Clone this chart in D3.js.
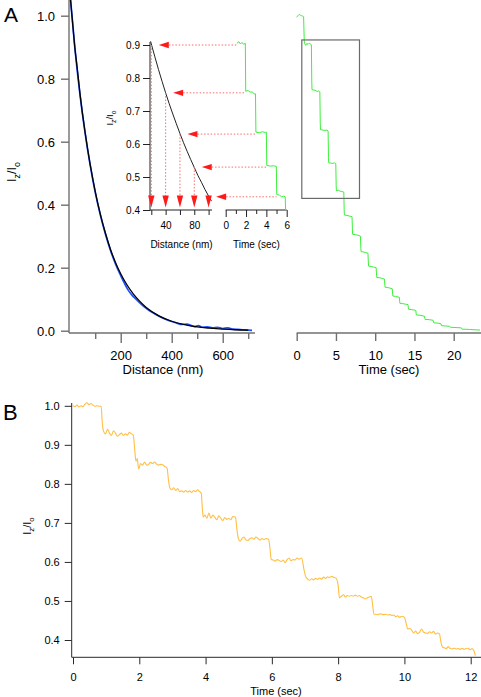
<!DOCTYPE html>
<html><head><meta charset="utf-8">
<script src="https://cdn.jsdelivr.net/npm/d3@7"></script>
<style>
body{margin:0;background:#fff}
svg{display:block}
text{font-family:"Liberation Sans",Arial,Helvetica,sans-serif}
</style>
</head><body>
<svg id="c" width="481" height="697"></svg>
<script>
// ---------- DATA ----------
// Panel A (left): intensity vs distance
const distTicksMajor = [200, 400, 600];
const distTicksMinor = [100, 300, 500, 700];
const aYTicks = [0, 0.2, 0.4, 0.6, 0.8, 1.0];
const fitDist = [0,10,20,30,40,50,60,70,80,90,100,120,140,160,180,200,225,250,275,300,350,400,450,500,550,600,650,700];
const fitI    = [1.08,0.99,0.90,0.83,0.755,0.69,0.632,0.578,0.529,0.484,0.442,0.37,0.31,0.258,0.216,0.181,0.145,0.116,0.093,0.074,0.047,0.030,0.019,0.012,0.008,0.005,0.003,0.002];
const measDist = [0,20,40,60,80,100,120,140,160,180,200,215,230,245,260,275,290,305,320,350,380,400,420,440,460,475,490,505,520,540,560,580,600,620,640,660,680,700,715];
const measI    = [1.08,0.9,0.752,0.63,0.527,0.44,0.368,0.307,0.255,0.211,0.175,0.15,0.128,0.112,0.1,0.088,0.077,0.068,0.06,0.046,0.035,0.029,0.024,0.02,0.021,0.017,0.013,0.016,0.011,0.012,0.009,0.011,0.007,0.009,0.005,0.004,0.003,0.002,0.001];

// Panel A (right): intensity vs time, green trace
const timeTicksA = [0, 5, 10, 15, 20];
const greenT = [0.0,0.15,0.3,0.45,0.6,0.75,0.88,
  0.95,0.98,1.15,1.3,1.45,1.6,1.75,1.87,
  1.92,1.95,2.2,2.45,2.6,2.75,2.95,
  3.0,3.03,3.3,3.6,3.85,4.0,
  4.05,4.08,4.3,4.6,4.8,4.98,
  5.03,5.06,5.3,5.5,5.75,6.0,
  6.05,6.08,6.4,6.7,7.05,
  7.1,7.13,7.5,7.8,8.12,
  8.17,8.2,8.5,8.8,9.08,
  9.13,9.16,9.5,9.8,10.12,
  10.17,10.2,10.6,10.9,11.18,
  11.23,11.26,11.6,11.9,12.18,
  12.22,12.25,12.6,12.9,13.08,
  13.12,13.15,13.5,13.9,14.18,
  14.22,14.25,14.6,14.9,15.18,
  15.22,15.25,15.7,16.28,
  16.32,16.35,16.9,17.38,
  17.42,17.45,18.0,18.38,
  18.42,18.45,19.0,19.48,
  19.52,19.55,20.3,20.98,
  21.02,21.05,22.0,23.35];
const greenI = [0.995,1.0,1.004,1.002,1.0,0.999,0.997,
  0.93,0.912,0.906,0.912,0.909,0.913,0.91,0.908,
  0.79,0.765,0.764,0.762,0.759,0.761,0.758,
  0.66,0.638,0.637,0.636,0.637,0.634,
  0.55,0.533,0.532,0.531,0.533,0.53,
  0.46,0.444,0.446,0.443,0.442,0.44,
  0.38,0.367,0.366,0.364,0.362,
  0.32,0.306,0.305,0.303,0.3,
  0.262,0.251,0.25,0.248,0.246,
  0.215,0.205,0.204,0.202,0.2,
  0.176,0.169,0.168,0.166,0.164,
  0.144,0.138,0.137,0.135,0.133,
  0.116,0.11,0.109,0.107,0.106,
  0.092,0.087,0.086,0.084,0.083,
  0.072,0.068,0.067,0.066,0.064,
  0.054,0.05,0.049,0.046,
  0.039,0.036,0.035,0.033,
  0.027,0.025,0.024,0.022,
  0.018,0.016,0.015,0.014,
  0.012,0.011,0.01,0.009,
  0.006,0.005,0.004,0.002];
const boxT = [0.65, 8.0];
const boxI = [0.42, 0.923];

// Inset
const insetYTicks = [0.4, 0.5, 0.6, 0.7, 0.8, 0.9];
const insetDistTicks = [20, 40, 60, 80, 100];
const insetDistLabels = [40, 80];
const insetTimeMajor = [0, 2, 4, 6];
const insetTimeMinor = [1, 3, 5];
const insetCurveDist = [19,25,30,35,40,45,50,55,60,65,70,75,80,85,90,95,100,104];
const insetCurveI    = [0.911,0.864,0.826,0.79,0.755,0.722,0.691,0.661,0.632,0.604,0.578,0.553,0.529,0.505,0.484,0.462,0.442,0.427];
const insetLevels = [0.9, 0.755, 0.63, 0.53, 0.44];
const insetLevelDist = [20, 40, 60, 80, 100];
const insetStepStart = [1.1, 1.96, 2.96, 4.0, 5.0];
const insetGreenT = [1.1,1.3,1.45,1.6,1.75,1.93,1.97,2.2,2.4,2.6,2.8,2.93,2.97,3.3,3.6,3.9,4.0,4.04,4.4,4.7,4.98,5.02,5.3,5.5,5.7,5.85,5.9];
const insetGreenI = [0.905,0.91,0.903,0.908,0.902,0.905,0.76,0.762,0.757,0.758,0.752,0.752,0.636,0.634,0.637,0.635,0.636,0.535,0.533,0.534,0.532,0.447,0.445,0.44,0.442,0.44,0.395];

// Panel B
const bXTicks = [0, 2, 4, 6, 8, 10, 12];
const bYTicks = [0.4, 0.5, 0.6, 0.7, 0.8, 0.9, 1.0];
const orangeT = [0,0.06,0.12,0.18,0.24,0.3,0.36,0.42,0.48,0.54,0.6,0.66,0.72,0.8,0.85,
  0.88,0.92,0.98,1.04,1.1,1.16,1.22,1.28,1.34,1.4,1.46,1.52,1.58,1.64,1.7,1.76,1.82,
  1.86,1.9,1.94,1.98,2.04,2.1,2.16,2.22,2.28,2.34,2.4,2.46,2.52,2.58,2.64,2.7,2.76,2.84,
  2.88,2.92,2.98,3.04,3.1,3.16,3.22,3.28,3.34,3.4,3.46,3.52,3.58,3.64,3.7,3.76,3.82,3.87,
  3.9,3.93,3.98,4.04,4.1,4.16,4.22,4.28,4.34,4.4,4.46,4.52,4.58,4.64,4.7,4.76,4.82,4.9,
  4.95,4.99,5.04,5.1,5.16,5.22,5.28,5.34,5.4,5.46,5.52,5.58,5.64,5.7,5.76,5.82,5.9,
  5.95,5.98,6.04,6.1,6.16,6.22,6.28,6.34,6.4,6.46,6.52,6.58,6.64,6.7,6.76,6.82,6.9,
  6.97,7.02,7.08,7.14,7.2,7.26,7.32,7.38,7.44,7.5,7.56,7.62,7.68,7.74,7.8,7.86,7.94,
  8.0,8.04,8.1,8.16,8.22,8.28,8.34,8.4,8.46,8.52,8.58,8.64,8.7,8.76,8.82,8.88,8.94,9.0,
  9.04,9.08,9.14,9.2,9.26,9.32,9.38,9.44,9.5,9.56,9.62,9.68,9.74,9.8,9.86,9.92,10.0,
  10.06,10.1,10.16,10.22,10.28,10.34,10.4,10.46,10.52,10.58,10.64,10.7,10.76,10.82,10.88,10.94,11.0,11.06,
  11.1,11.15,11.2,11.26,11.32,11.38,11.44,11.5,11.56,11.62,11.68,11.74,11.8,11.86,11.92,11.98,12.04,12.1,12.14];
const orangeI = [1.0,0.998,1.002,0.997,1.0,0.998,1.004,1.008,1.003,1.006,1.002,0.999,1.0,0.999,0.999,
  0.96,0.935,0.928,0.94,0.93,0.924,0.936,0.93,0.922,0.926,0.93,0.924,0.928,0.925,0.932,0.928,0.925,
  0.89,0.858,0.865,0.838,0.852,0.848,0.856,0.848,0.85,0.855,0.852,0.856,0.851,0.848,0.85,0.849,0.845,0.84,
  0.81,0.79,0.785,0.79,0.783,0.788,0.78,0.782,0.779,0.783,0.779,0.782,0.778,0.783,0.78,0.785,0.78,0.776,
  0.74,0.715,0.72,0.712,0.725,0.712,0.72,0.714,0.708,0.718,0.712,0.706,0.714,0.709,0.712,0.708,0.716,0.715,
  0.68,0.66,0.653,0.66,0.664,0.656,0.655,0.66,0.662,0.658,0.664,0.66,0.656,0.66,0.657,0.66,0.658,
  0.63,0.606,0.605,0.602,0.606,0.604,0.601,0.605,0.598,0.606,0.61,0.603,0.606,0.605,0.61,0.607,0.61,
  0.58,0.563,0.556,0.553,0.557,0.554,0.558,0.555,0.559,0.556,0.561,0.558,0.562,0.56,0.563,0.561,0.558,
  0.54,0.508,0.512,0.516,0.51,0.514,0.512,0.514,0.512,0.515,0.512,0.514,0.51,0.508,0.505,0.508,0.51,0.512,
  0.49,0.466,0.466,0.465,0.467,0.466,0.465,0.466,0.464,0.465,0.463,0.464,0.46,0.462,0.458,0.461,0.458,
  0.44,0.428,0.43,0.425,0.418,0.423,0.416,0.42,0.428,0.42,0.418,0.417,0.421,0.418,0.422,0.415,0.418,0.415,
  0.395,0.382,0.38,0.378,0.383,0.378,0.377,0.379,0.377,0.378,0.376,0.379,0.376,0.378,0.379,0.375,0.378,0.372,0.36];

// ---------- DRAWING ----------
const FONT = '"Liberation Sans", Arial, Helvetica, sans-serif';
const svg = d3.select("#c");
const GREEN = "#3cf03c", ORANGE = "#ffbf45", BLUE = "#1f50ff", RED = "#ff1a1a";
const zip = (a, b) => a.map((v, i) => [v, b[i]]);

function styleAxis(g, color, width, fs) {
  g.attr("font-family", FONT).attr("font-size", fs);
  g.select(".domain").remove();
  g.selectAll(".tick line").attr("stroke", color).attr("stroke-width", width);
  g.selectAll(".tick text").attr("fill", "#000");
}
function ylab(x, y, fs) {
  const t = svg.append("text").attr("transform", `translate(${x},${y}) rotate(-90)`)
    .attr("text-anchor", "middle").attr("font-size", fs).attr("fill", "#000");
  t.append("tspan").text("I");
  t.append("tspan").text("z").attr("font-size", fs * 0.72).attr("dy", fs * 0.3);
  t.append("tspan").text("/I").attr("dy", -fs * 0.3);
  t.append("tspan").text("o").attr("font-size", fs * 0.72).attr("dy", fs * 0.3);
}
function label(x, y, txt, fs, anchor) {
  svg.append("text").attr("x", x).attr("y", y).attr("font-size", fs)
    .attr("text-anchor", anchor || "middle").attr("fill", "#000").text(txt);
}
const fmtInt = d3.format("d");

// ===== Panel A, left =====
const xA = d3.scaleLinear().domain([0, 725]).range([69.7, 254.6]);
const yA = d3.scaleLinear().domain([0, 1]).range([330.7, 15.7]);
const gray = "#707070";
const axY0 = 333;

svg.append("line").attr("x1", 69).attr("x2", 69).attr("y1", 0).attr("y2", axY0)
  .attr("stroke", gray).attr("stroke-width", 1.4);
svg.append("line").attr("x1", 69).attr("x2", 255).attr("y1", axY0).attr("y2", axY0)
  .attr("stroke", gray).attr("stroke-width", 1.4);

const gAy = svg.append("g").attr("transform", "translate(69,0)")
  .call(d3.axisLeft(yA).tickValues(aYTicks).tickFormat(d3.format(".1f")).tickSize(8).tickPadding(6));
styleAxis(gAy, gray, 1.4, 13);
gAy.selectAll(".tick text").attr("dy", "0.36em");

const gAxMin = svg.append("g").attr("transform", `translate(0,${axY0})`)
  .call(d3.axisBottom(xA).tickValues(distTicksMinor).tickFormat("").tickSize(6));
styleAxis(gAxMin, gray, 1.4, 13);
const gAx = svg.append("g").attr("transform", `translate(0,${axY0})`)
  .call(d3.axisBottom(xA).tickValues(distTicksMajor).tickFormat(fmtInt).tickSize(10));
styleAxis(gAx, gray, 1.4, 13);
gAx.selectAll(".tick text").attr("y", 27).attr("dy", 0);
label(163, 374, "Distance (nm)", 13);
ylab(16, 172, 12.5);
label(4, 22, "A", 21, "start");

const lineA = d3.line().x(d => xA(d[0])).y(d => yA(d[1])).curve(d3.curveMonotoneX);
svg.append("path").datum(zip(measDist, measI)).attr("d", lineA)
  .attr("fill", "none").attr("stroke", BLUE).attr("stroke-width", 1.7);
svg.append("path").datum(zip(fitDist, fitI)).attr("d", lineA)
  .attr("fill", "none").attr("stroke", "#000").attr("stroke-width", 1.3);

// ===== Panel A, right (time) =====
const xT = d3.scaleLinear().domain([0, 23.35]).range([296.7, 480]);
svg.append("line").attr("x1", 296.7).attr("x2", 481).attr("y1", axY0).attr("y2", axY0)
  .attr("stroke", gray).attr("stroke-width", 1.4);
const gTx = svg.append("g").attr("transform", `translate(0,${axY0})`)
  .call(d3.axisBottom(xT).tickValues(timeTicksA).tickFormat(fmtInt).tickSize(8));
styleAxis(gTx, gray, 1.4, 13);
gTx.selectAll(".tick text").attr("y", 26.5).attr("dy", 0);
label(389, 374, "Time (sec)", 13);

svg.append("path").datum(zip(greenT, greenI))
  .attr("d", d3.line().x(d => xT(d[0])).y(d => yA(d[1])))
  .attr("fill", "none").attr("stroke", GREEN).attr("stroke-width", 1);
svg.append("rect").attr("x", xT(boxT[0])).attr("y", yA(boxI[1]))
  .attr("width", xT(boxT[1]) - xT(boxT[0])).attr("height", yA(boxI[0]) - yA(boxI[1]))
  .attr("fill", "none").attr("stroke", "#6a6a6a").attr("stroke-width", 1.2);

// ===== Inset =====
const xI = d3.scaleLinear().domain([20, 100]).range([151.3, 208.6]);
const yI = d3.scaleLinear().domain([0.4, 0.9]).range([210, 45]);
const xIt = d3.scaleLinear().domain([0, 6]).range([225.7, 286.7]);
const ink = "#222";
svg.append("line").attr("x1", 150).attr("x2", 150).attr("y1", 42).attr("y2", 210.5).attr("stroke", ink).attr("stroke-width", 1);
svg.append("line").attr("x1", 150).attr("x2", 212).attr("y1", 210).attr("y2", 210).attr("stroke", ink).attr("stroke-width", 1);
svg.append("line").attr("x1", 225.7).attr("x2", 286.7).attr("y1", 210).attr("y2", 210).attr("stroke", ink).attr("stroke-width", 1);

const gIy = svg.append("g").attr("transform", "translate(150,0)")
  .call(d3.axisLeft(yI).tickValues(insetYTicks).tickFormat(d3.format(".1f")).tickSize(7).tickPadding(3));
styleAxis(gIy, ink, 1, 10);
gIy.selectAll(".tick text").attr("dy", "0.36em");
const gIx = svg.append("g").attr("transform", "translate(0,210)")
  .call(d3.axisBottom(xI).tickValues(insetDistTicks).tickFormat(d => insetDistLabels.includes(d) ? fmtInt(d) : "").tickSize(5));
styleAxis(gIx, ink, 1, 10);
gIx.selectAll(".tick text").attr("y", 19).attr("dy", 0);
const gItMin = svg.append("g").attr("transform", "translate(0,210)")
  .call(d3.axisBottom(xIt).tickValues(insetTimeMinor).tickFormat("").tickSize(4));
styleAxis(gItMin, ink, 1, 10);
const gIt = svg.append("g").attr("transform", "translate(0,210)")
  .call(d3.axisBottom(xIt).tickValues(insetTimeMajor).tickFormat(fmtInt).tickSize(7));
styleAxis(gIt, ink, 1, 10);
gIt.selectAll(".tick text").attr("y", 19).attr("dy", 0);
label(181.5, 247.5, "Distance (nm)", 10);
label(256.5, 247.5, "Time (sec)", 10);
ylab(113, 118, 9.5);

svg.append("path").datum(zip(insetCurveDist, insetCurveI))
  .attr("d", d3.line().x(d => xI(d[0])).y(d => yI(d[1])).curve(d3.curveMonotoneX))
  .attr("fill", "none").attr("stroke", "#222").attr("stroke-width", 1);

// red dotted guides and arrows
const dotted = "#ff6b6b";
insetLevels.forEach((lv, i) => {
  const cx = xI(insetLevelDist[i]), cy = yI(lv);
  const tip = cx + 7.5, base = tip + 10;
  svg.append("line").attr("x1", base).attr("x2", xIt(insetStepStart[i])).attr("y1", cy).attr("y2", cy)
    .attr("stroke", dotted).attr("stroke-width", 1).attr("stroke-dasharray", "1.5,1.8");
  svg.append("line").attr("x1", cx).attr("x2", cx).attr("y1", cy).attr("y2", 196)
    .attr("stroke", dotted).attr("stroke-width", 1).attr("stroke-dasharray", "1.5,1.8");
  svg.append("path").attr("d", `M${tip},${cy}L${base},${cy - 3.2}L${base},${cy + 3.2}Z`).attr("fill", RED);
  svg.append("path").attr("d", `M${cx},207.5L${cx - 3.2},195.5L${cx + 3.2},195.5Z`).attr("fill", RED);
});

svg.append("clipPath").attr("id", "clipI").append("rect").attr("x", 220).attr("y", 30).attr("width", 80).attr("height", 180);
svg.append("path").datum(zip(insetGreenT, insetGreenI)).attr("clip-path", "url(#clipI)")
  .attr("d", d3.line().x(d => xIt(d[0])).y(d => yI(d[1])))
  .attr("fill", "none").attr("stroke", GREEN).attr("stroke-width", 1);

// ===== Panel B =====
const xB = d3.scaleLinear().domain([0, 12]).range([73, 470.7]);
const yB = d3.scaleLinear().domain([0.4, 1.0]).range([640, 405.8]);
const bInk = "#2a2a2a";
const bAx = 657.3;
svg.append("line").attr("x1", 71.7).attr("x2", 71.7).attr("y1", 403).attr("y2", bAx).attr("stroke", bInk).attr("stroke-width", 1);
svg.append("line").attr("x1", 71.7).attr("x2", 481).attr("y1", bAx).attr("y2", bAx).attr("stroke", bInk).attr("stroke-width", 1);
const gBy = svg.append("g").attr("transform", "translate(71.7,0)")
  .call(d3.axisLeft(yB).tickValues(bYTicks).tickFormat(d3.format(".1f")).tickSize(7).tickPadding(5));
styleAxis(gBy, bInk, 1, 11);
gBy.selectAll(".tick text").attr("dy", "0.36em");
const gBx = svg.append("g").attr("transform", `translate(0,${bAx})`)
  .call(d3.axisBottom(xB).tickValues(bXTicks).tickFormat(fmtInt).tickSize(7));
styleAxis(gBx, bInk, 1, 11);
gBx.selectAll(".tick text").attr("y", 23.5).attr("dy", 0);
label(276, 694.5, "Time (sec)", 11);
ylab(31, 526, 11);
label(3, 420, "B", 22, "start");

svg.append("path").datum(zip(orangeT, orangeI))
  .attr("d", d3.line().x(d => xB(d[0])).y(d => yB(d[1])).curve(d3.curveMonotoneX))
  .attr("fill", "none").attr("stroke", ORANGE).attr("stroke-width", 1.1);
</script>
</body></html>
